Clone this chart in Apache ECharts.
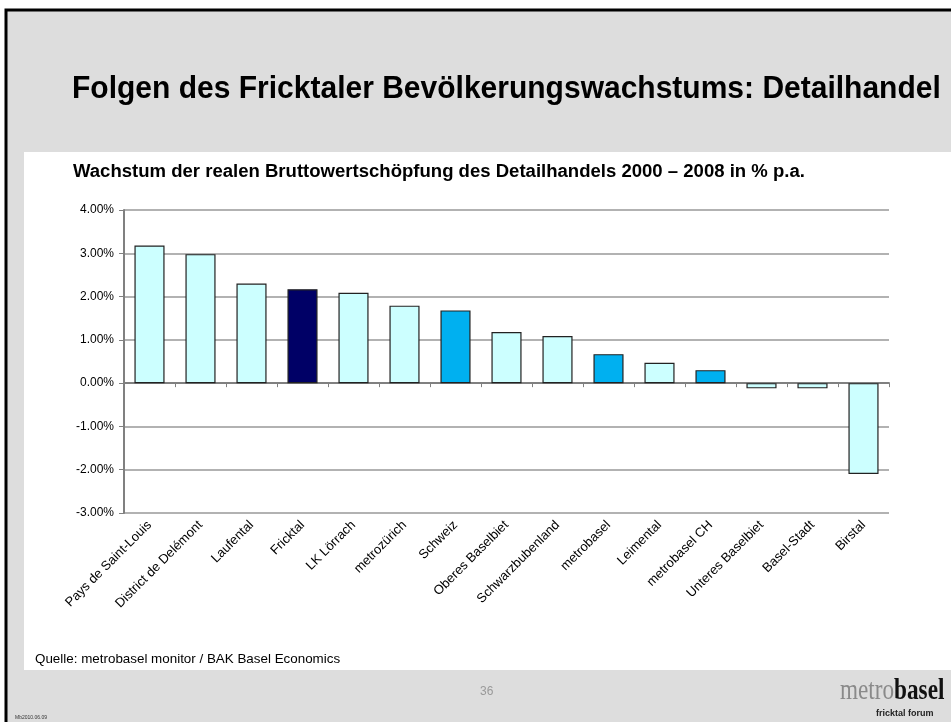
<!DOCTYPE html>
<html>
<head>
<meta charset="utf-8">
<script src="https://cdn.jsdelivr.net/npm/echarts@6/dist/echarts.min.js"></script>
<style>
html, body { margin: 0; padding: 0; background: #fff; }
#main { width: 951px; height: 722px; }
</style>
</head>
<body>
<div id="main"></div>
<script>
// regions, in chart order
var regions = ['Pays de Saint-Louis', 'District de Delémont', 'Laufental', 'Fricktal', 'LK Lörrach',
    'metrozürich', 'Schweiz', 'Oberes Baselbiet', 'Schwarzbubenland', 'metrobasel', 'Leimental',
    'metrobasel CH', 'Unteres Baselbiet', 'Basel-Stadt', 'Birstal'];

// growth of real gross value added in retail 2000-2008, % p.a.
var growth = [3.18, 2.98, 2.30, 2.17, 2.09, 1.79, 1.68, 1.18, 1.09, 0.67, 0.47, 0.30, -0.12, -0.12, -2.10];

// bar colour group: 0 = region, 1 = Fricktal, 2 = benchmark
var group = [0, 0, 0, 1, 0, 0, 2, 0, 0, 2, 0, 2, 0, 0, 0];
var groupColors = ['#CCFFFF', '#000066', '#00B0F0'];

var yTicks = [-3, -2, -1, 0, 1, 2, 3, 4];

var myChart = echarts.init(document.getElementById('main'));

var barData = [];
for (var i = 0; i < growth.length; ++i) {
    barData.push({ value: growth[i], itemStyle: { color: groupColors[group[i]] } });
}

var sans = '"Liberation Sans", Arial, sans-serif';
var serif = '"Liberation Serif", "DejaVu Serif", serif';

var option = {
    animation: false,
    backgroundColor: '#ffffff',
    graphic: [
        // slide background and frame
        { type: 'rect', shape: { x: 6, y: 10, width: 950, height: 720 },
          style: { fill: '#DDDDDD', stroke: '#000', lineWidth: 3 }, z: -10 },
        { type: 'rect', shape: { x: 24, y: 152, width: 930, height: 518 },
          style: { fill: '#ffffff' }, z: -9 },
        { type: 'text', x: 72, y: 74, scaleX: 0.968,
          style: { text: 'Folgen des Fricktaler Bevölkerungswachstums: Detailhandel',
                   font: 'bold 31px ' + sans, fill: '#000' } },
        { type: 'text', x: 73, y: 163, scaleX: 1.03,
          style: { text: 'Wachstum der realen Bruttowertschöpfung des Detailhandels 2000 – 2008 in % p.a.',
                   font: 'bold 18px ' + sans, fill: '#000' } },
        { type: 'text', x: 35, y: 653,
          style: { text: 'Quelle: metrobasel monitor / BAK Basel Economics',
                   font: '13.4px ' + sans, fill: '#000' } },
        { type: 'text', x: 480, y: 686,
          style: { text: '36', font: '12px ' + sans, fill: '#999' } },
        { type: 'text', x: 15, y: 715,
          style: { text: 'Mb2010.06.09', font: '5px ' + sans, fill: '#333' } },
        // logo
        { type: 'text', x: 840, y: 677, scaleX: 0.8,
          style: { rich: {
                     a: { font: '29px ' + serif, fill: '#8a8a8a' },
                     b: { font: 'bold 29px ' + serif, fill: '#111' } },
                   text: '{a|metro}{b|basel}' } },
        { type: 'text', x: 876, y: 709,
          style: { text: 'fricktal forum', font: 'bold 9px ' + sans, fill: '#222' } }
    ],
    grid: { left: 124, right: 62, top: 210, bottom: 209 },
    xAxis: [{
        // zero line with ticks
        type: 'category',
        data: regions,
        position: 'bottom',
        axisLine: { onZero: true, lineStyle: { color: '#808080', width: 2 } },
        axisTick: { show: true, interval: 0, length: 4, lineStyle: { color: '#808080' } },
        axisLabel: { show: false }
    }, {
        // region labels along the bottom
        type: 'category',
        data: regions,
        position: 'bottom',
        axisLine: { show: false, onZero: false },
        axisTick: { show: false },
        axisLabel: { rotate: 45, interval: 0, margin: 10, color: '#000',
                     fontFamily: sans, fontSize: 13 }
    }],
    yAxis: {
        type: 'value',
        min: yTicks[0],
        max: yTicks[yTicks.length - 1],
        interval: 1,
        axisLine: { show: true, lineStyle: { color: '#808080', width: 2 } },
        axisTick: { show: true, length: 5, lineStyle: { color: '#808080' } },
        splitLine: { lineStyle: { color: '#999999', width: 1.5 } },
        axisLabel: {
            color: '#000', fontSize: 12, margin: 10, fontFamily: sans,
            formatter: function (v) { return v.toFixed(2) + '%'; }
        }
    },
    series: [{
        name: 'Wachstum',
        type: 'bar',
        xAxisIndex: 0,
        data: barData,
        barWidth: '59%',
        itemStyle: { borderColor: '#222', borderWidth: 1.2 }
    }]
};

myChart.setOption(option);
</script>
</body>
</html>
